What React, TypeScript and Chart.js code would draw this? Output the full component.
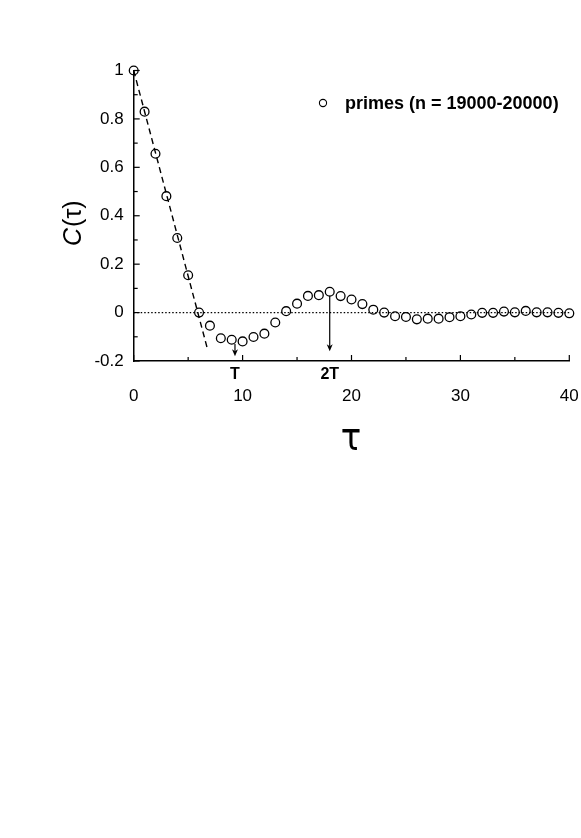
import React, { useEffect, useRef } from "react";
import { Chart, registerables } from "chart.js";

Chart.register(...registerables);

// ---- data ----
const tau: number[] = [
  0, 1, 2, 3, 4, 5, 6, 7, 8, 9, 10, 11, 12, 13, 14, 15, 16, 17, 18, 19, 20,
  21, 22, 23, 24, 25, 26, 27, 28, 29, 30, 31, 32, 33, 34, 35, 36, 37, 38, 39, 40,
];
const corr: number[] = [
  1.0, 0.83, 0.656, 0.481, 0.308, 0.154, 0.0, -0.054, -0.106, -0.112, -0.119,
  -0.101, -0.087, -0.041, 0.006, 0.037, 0.069, 0.072, 0.086, 0.068, 0.054,
  0.035, 0.012, 0.0, -0.015, -0.018, -0.028, -0.025, -0.025, -0.019, -0.015,
  -0.008, -0.001, -0.001, 0.004, 0.001, 0.007, 0.001, 0.001, -0.001, -0.003,
];
const fitTau: number[] = [0, 6.8];
const fitC: number[] = [1.0, -0.155];
const zeroTau: number[] = [0, 40];
const zeroC: number[] = [0, 0];
const xMinorTicks: number[] = [5, 15, 25, 35];
const yMinorTicks: number[] = [-0.1, 0.1, 0.3, 0.5, 0.7, 0.9];
const arrowTau: number[] = [9.3, 18];
const arrowFrom: number[] = [-0.13, 0.07];
const arrowTo: number[] = [-0.18, -0.16];
const arrowLabels: string[] = ["T", "2T"];
const seriesLabel = "primes (n = 19000-20000)";
const xTitle = "τ";
const yTitleItalic = "C";
const yTitleRest = "(τ)";

const FONT = '"Liberation Sans", Arial, Helvetica, sans-serif';

const decorPlugin = {
  id: "decor",
  afterDraw(chart: any) {
    const { ctx, chartArea, scales } = chart;
    const xs = scales.x;
    const ys = scales.y;
    ctx.save();
    ctx.strokeStyle = "#000";
    ctx.fillStyle = "#000";
    ctx.lineWidth = 1.2;
    // inward ticks
    const majorLen = 6;
    const minorLen = 4;
    xs.ticks.forEach((t: any) => {
      const px = xs.getPixelForValue(t.value);
      ctx.beginPath();
      ctx.moveTo(px, chartArea.bottom);
      ctx.lineTo(px, chartArea.bottom - majorLen);
      ctx.stroke();
    });
    xMinorTicks.forEach((v) => {
      const px = xs.getPixelForValue(v);
      ctx.beginPath();
      ctx.moveTo(px, chartArea.bottom);
      ctx.lineTo(px, chartArea.bottom - minorLen);
      ctx.stroke();
    });
    ys.ticks.forEach((t: any) => {
      const py = ys.getPixelForValue(t.value);
      ctx.beginPath();
      ctx.moveTo(chartArea.left, py);
      ctx.lineTo(chartArea.left + majorLen, py);
      ctx.stroke();
    });
    yMinorTicks.forEach((v) => {
      const py = ys.getPixelForValue(v);
      ctx.beginPath();
      ctx.moveTo(chartArea.left, py);
      ctx.lineTo(chartArea.left + minorLen, py);
      ctx.stroke();
    });

    // arrows
    ctx.lineWidth = 1.2;
    arrowTau.forEach((t, i) => {
      const px = xs.getPixelForValue(t);
      const y0 = ys.getPixelForValue(arrowFrom[i]);
      const y1 = ys.getPixelForValue(arrowTo[i]);
      ctx.beginPath();
      ctx.moveTo(px, y0);
      ctx.lineTo(px, y1 - 5);
      ctx.stroke();
      ctx.beginPath();
      ctx.moveTo(px, y1);
      ctx.lineTo(px - 3, y1 - 7);
      ctx.lineTo(px, y1 - 5);
      ctx.lineTo(px + 3, y1 - 7);
      ctx.closePath();
      ctx.fill();
      ctx.font = `bold 16px ${FONT}`;
      ctx.textAlign = "center";
      ctx.textBaseline = "middle";
      ctx.fillText(arrowLabels[i], px, chartArea.bottom + 14);
    });

    // y title: italic C + (τ), rotated
    ctx.save();
    ctx.translate(81, 246);
    ctx.rotate(-Math.PI / 2);
    ctx.textAlign = "left";
    ctx.textBaseline = "alphabetic";
    ctx.font = `italic 25px ${FONT}`;
    ctx.fillText(yTitleItalic, 0, 0);
    const wC = ctx.measureText(yTitleItalic).width;
    ctx.font = `25px ${FONT}`;
    ctx.fillText(yTitleRest, wC + 1, 0);
    ctx.restore();

    // x title
    ctx.save();
    ctx.translate(351, 440);
    ctx.scale(1, 1.15);
    ctx.font = `34px "DejaVu Sans", ${FONT}`;
    ctx.textAlign = "center";
    ctx.textBaseline = "middle";
    ctx.fillText(xTitle, 0, 0);
    ctx.restore();

    // legend
    ctx.lineWidth = 1.1;
    ctx.beginPath();
    ctx.arc(323, 103, 3.6, 0, Math.PI * 2);
    ctx.stroke();
    ctx.font = `bold 18px ${FONT}`;
    ctx.textAlign = "left";
    ctx.textBaseline = "middle";
    ctx.fillText(seriesLabel, 345, 104);

    ctx.restore();
  },
};

export default function App() {
  const ref = useRef<HTMLCanvasElement | null>(null);
  useEffect(() => {
    if (!ref.current) return;
    const chart = new Chart(ref.current, {
      type: "scatter",
      data: {
        datasets: [
          {
            data: zeroTau.map((x, i) => ({ x, y: zeroC[i] })),
            showLine: true,
            borderColor: "#000",
            borderWidth: 1.3,
            borderDash: [1.5, 2],
            pointRadius: 0,
            clip: false,
          } as any,
          {
            data: fitTau.map((x, i) => ({ x, y: fitC[i] })),
            showLine: true,
            borderColor: "#000",
            borderWidth: 1.4,
            borderDash: [6, 4],
            pointRadius: 0,
            clip: false,
          } as any,
          {
            label: seriesLabel,
            data: tau.map((x, i) => ({ x, y: corr[i] })),
            showLine: false,
            pointStyle: "circle",
            pointRadius: 4.4,
            pointBorderWidth: 1.3,
            pointBorderColor: "#000",
            pointBackgroundColor: "rgba(0,0,0,0)",
            clip: false,
          } as any,
        ],
      },
      options: {
        responsive: false,
        devicePixelRatio: 1,
        animation: false,
        events: [],
        layout: { padding: { left: 0, right: 11.7, top: 70.5, bottom: 377 } },
        plugins: {
          legend: { display: false },
          tooltip: { enabled: false },
        },
        scales: {
          x: {
            type: "linear",
            min: 0,
            max: 40,
            afterFit: (s: any) => {
              s.height = 100;
              s.paddingLeft = 0;
              s.paddingRight = 0;
            },
            grid: { display: false, drawTicks: false },
            border: { display: true, color: "#000", width: 1.5 },
            ticks: {
              stepSize: 10,
              padding: 25,
              maxRotation: 0,
              color: "#000",
              font: { family: FONT, size: 17 },
            },
          },
          y: {
            type: "linear",
            min: -0.2,
            max: 1,
            afterFit: (s: any) => {
              s.width = 133.7;
              s.paddingTop = 0;
              s.paddingBottom = 0;
            },
            grid: { display: false, drawTicks: false },
            border: { display: true, color: "#000", width: 1.5 },
            ticks: {
              stepSize: 0.2,
              padding: 10,
              color: "#000",
              font: { family: FONT, size: 17 },
              callback: (v: any) => String(Number(Number(v).toFixed(1))),
            },
          },
        },
      } as any,
      plugins: [decorPlugin],
    });
    return () => chart.destroy();
  }, []);
  return (
    <div style={{ position: "absolute", left: 0, top: 0, width: 581, height: 838, background: "#fff" }}>
      <canvas ref={ref} width={581} height={838} style={{ display: "block" }} />
    </div>
  );
}
